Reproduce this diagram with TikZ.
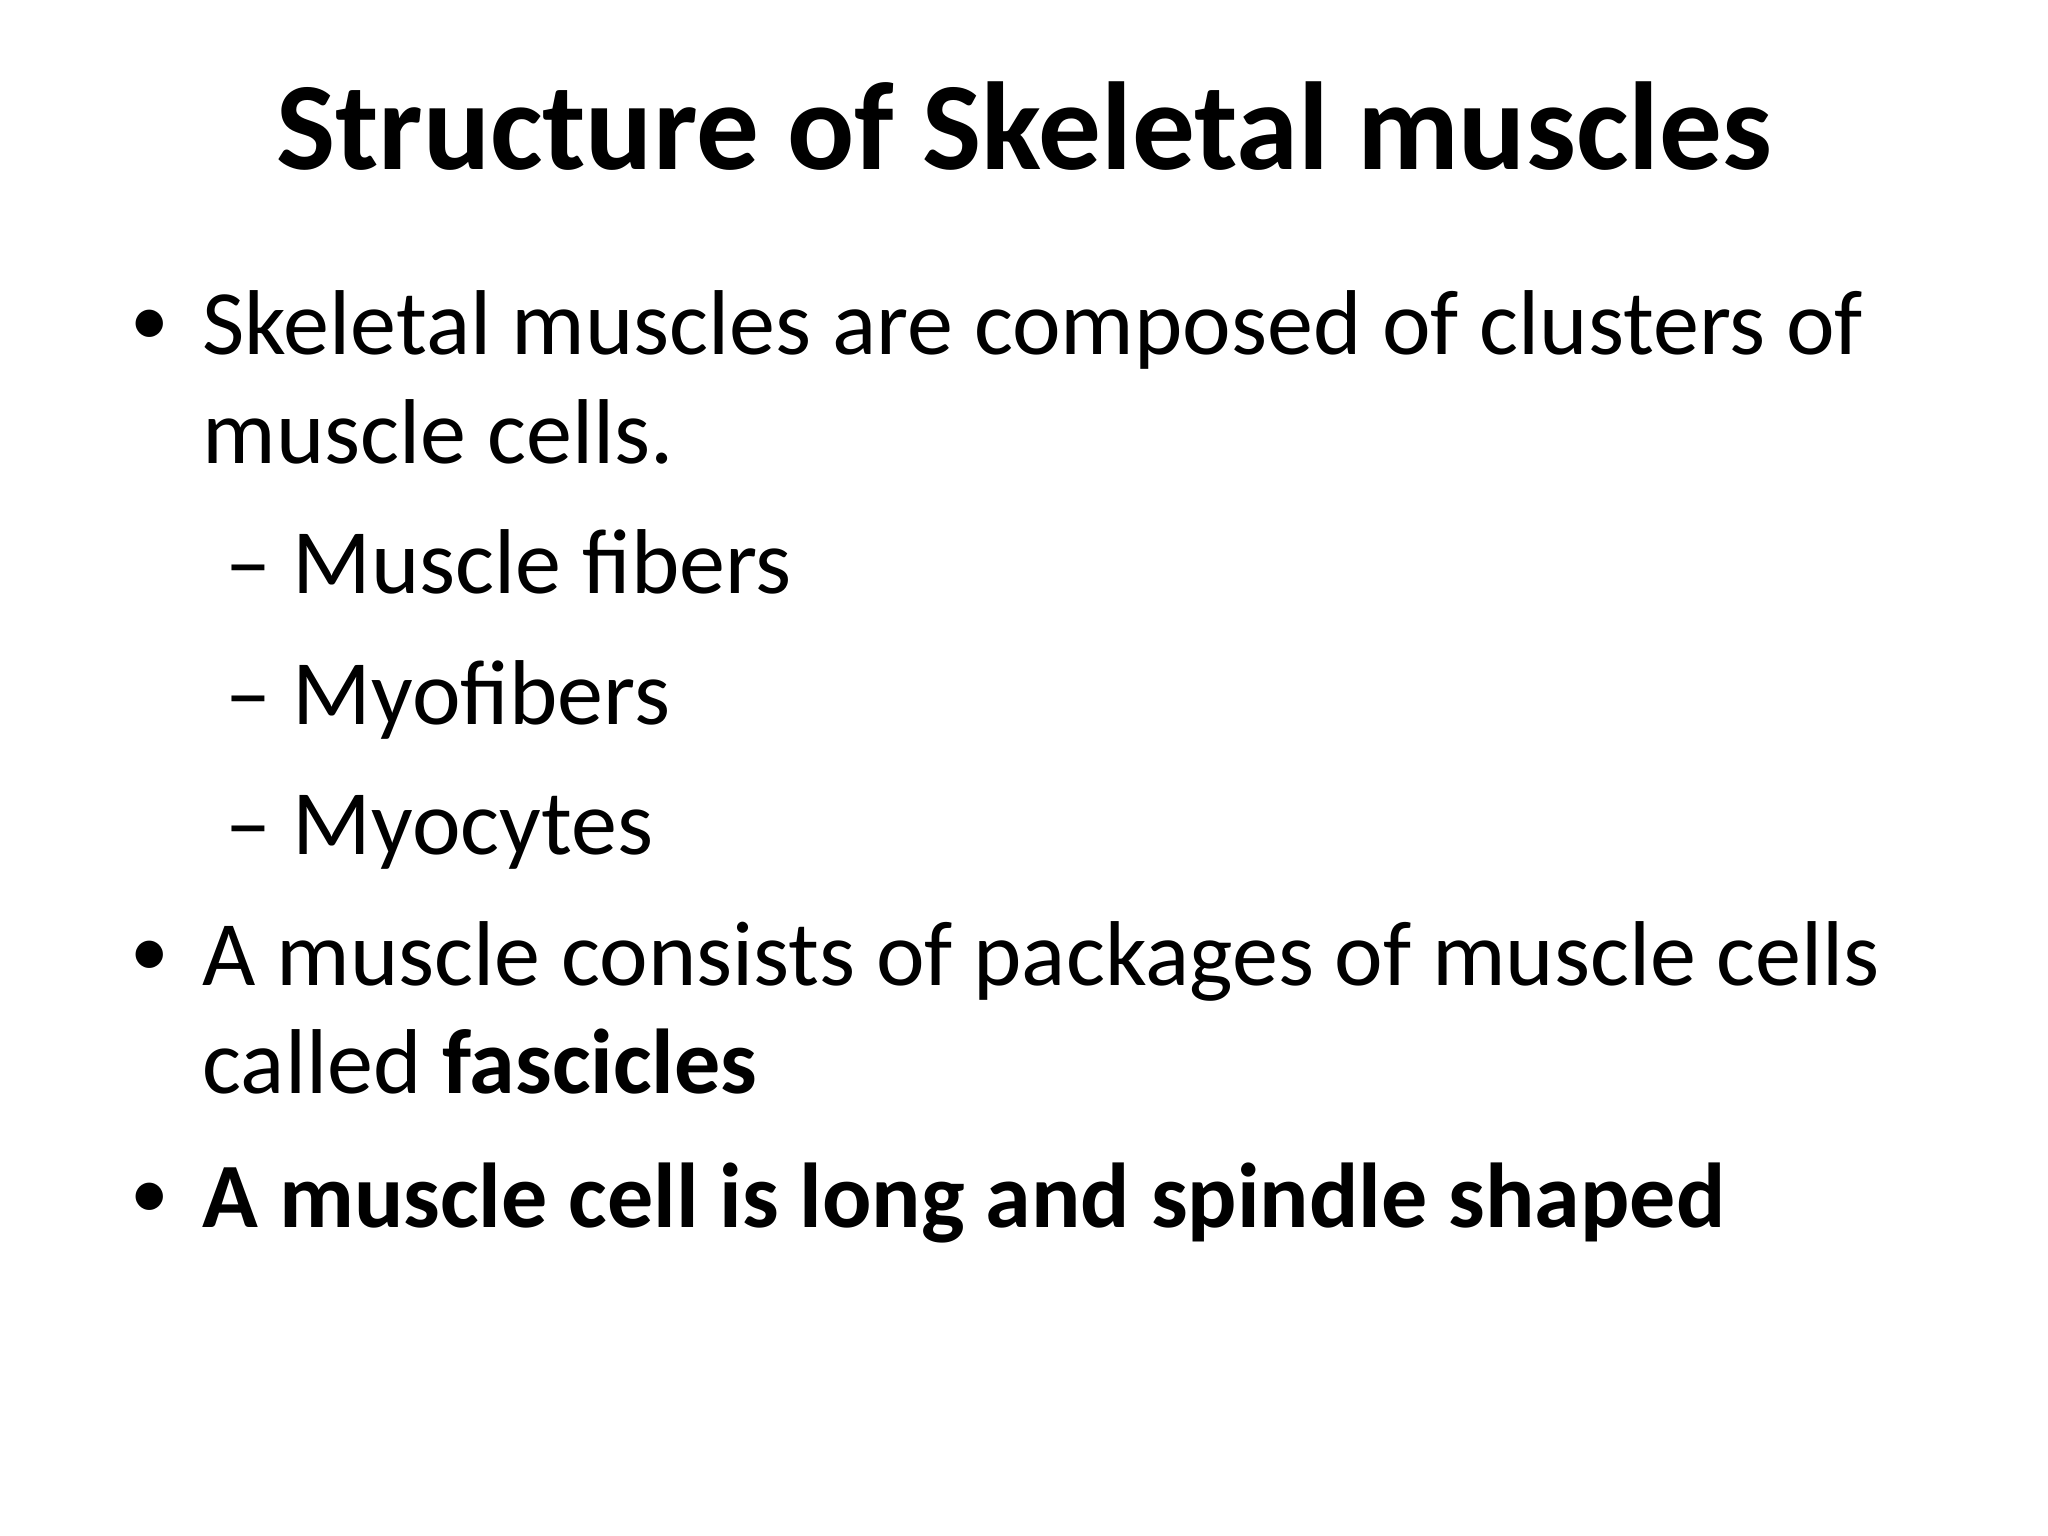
\documentclass[tikz,border=0pt]{standalone}
\usepackage{fontspec}
\setmainfont{Carlito}
\begin{document}
\begin{tikzpicture}[
  body/.style={anchor=base west,inner sep=0pt,font=\fontsize{26.2pt}{32pt}\selectfont},
  blt/.style={anchor=base west,inner sep=0pt,font=\fontsize{22pt}{26pt}\selectfont},
  ttl/.style={anchor=base,inner sep=0pt,font=\fontsize{35.6pt}{42pt}\selectfont\bfseries}]
\useasboundingbox (0,0) rectangle (20.48,15.36);
\node[ttl] (title) at (10.24,13.66) {Structure of Skeletal muscles};
\node[blt] (b1) at (1.30,11.90) {\textbullet};
\node[body] (t1) at (2.02,11.81) {Skeletal muscles are composed of clusters of};
\node[body] (t1b) at (2.02,10.72) {muscle cells.};
\node[body] (d1) at (2.25,9.42) {–};
\node[body] (s1) at (2.92,9.42) {Muscle fibers};
\node[body] (d2) at (2.25,8.11) {–};
\node[body] (s2) at (2.92,8.11) {Myofibers};
\node[body] (d3) at (2.25,6.81) {–};
\node[body] (s3) at (2.92,6.81) {Myocytes};
\node[blt] (b2) at (1.30,5.59) {\textbullet};
\node[body] (t2) at (2.02,5.50) {A muscle consists of packages of muscle cells};
\node[body] (t2b) at (2.02,4.42) {called \textbf{fascicles}};
\node[blt] (b3) at (1.30,3.17) {\textbullet};
\node[body] (t3) at (2.02,3.08) {\textbf{A muscle cell is long and spindle shaped}};
\end{tikzpicture}
\end{document}
